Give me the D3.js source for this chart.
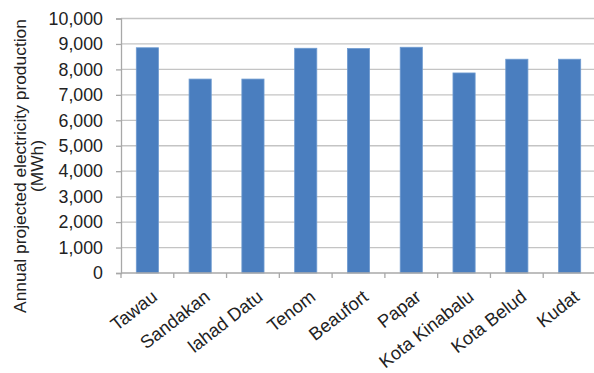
<!DOCTYPE html>
<html><head><meta charset="utf-8">
<script src="https://cdn.jsdelivr.net/npm/d3@7/dist/d3.min.js"></script>
<style>body{margin:0;background:#fff}svg{display:block}text{font-family:Arial,"Liberation Sans",sans-serif;fill:#222}</style>
</head><body><svg id="c" width="594" height="373"></svg>
<script>
const categories = ["Tawau","Sandakan","lahad Datu","Tenom","Beaufort","Papar","Kota Kinabalu","Kota Belud","Kudat"];
const values = [8850, 7620, 7620, 8830, 8820, 8870, 7860, 8400, 8400];
const yTicks = [0,1000,2000,3000,4000,5000,6000,7000,8000,9000,10000];
const yTitle = ["Annual projected electricity production","(MWh)"];

const svg = d3.select("#c");
const x = d3.scaleBand().domain(categories).range([121, 596]).paddingInner(0.58).paddingOuter(0.29);
const y = d3.scaleLinear().domain([0, 10000]).range([273, 18.5]);

// gridlines
svg.append("g").selectAll("line").data(yTicks.slice(1)).join("line")
  .attr("x1", 121).attr("x2", 596).attr("y1", d => y(d)).attr("y2", d => y(d))
  .attr("stroke", "#c4c4c4").attr("stroke-width", 1.3);

// bars
svg.append("g").selectAll("rect").data(values).join("rect")
  .attr("x", (d,i) => x(categories[i])).attr("width", x.bandwidth())
  .attr("y", d => y(d)).attr("height", d => y(0) - y(d))
  .attr("fill", "#4a7ebf").attr("stroke", "#6f9bd0").attr("stroke-width", 0.8);

// y axis
const ya = svg.append("g").attr("transform", "translate(121,0)")
  .call(d3.axisLeft(y).tickValues(yTicks).tickFormat(d3.format(",")).tickSize(5).tickPadding(13));
ya.select(".domain").attr("stroke", "#a8a8a8").attr("stroke-width", 1.3);
ya.selectAll(".tick line").attr("stroke", "#a8a8a8").attr("stroke-width", 1.3);
ya.selectAll("text").attr("font-size", 17.8).style("fill", "#222");

// x axis
const bounds = categories.map((c,i) => 121 + i * (475/9)).concat([596]);
svg.append("line").attr("x1",121).attr("x2",596).attr("y1",y(0)).attr("y2",y(0))
  .attr("stroke","#a8a8a8").attr("stroke-width",1.3);
svg.append("g").selectAll("line").data(bounds).join("line")
  .attr("x1", d => d).attr("x2", d => d).attr("y1", y(0)).attr("y2", y(0) + 5)
  .attr("stroke", "#a8a8a8").attr("stroke-width", 1.3);
svg.append("g").selectAll("text").data(categories).join("text")
  .attr("transform", d => `translate(${x(d) + x.bandwidth()/2 + 11},${y(0) + 26}) rotate(-38)`)
  .attr("text-anchor", "end").attr("font-size", 18.3).text(d => d);

// y title
svg.append("text").attr("transform", "translate(20,166) rotate(-90)")
  .attr("text-anchor", "middle").attr("font-size", 17.4)
  .selectAll("tspan").data(yTitle).join("tspan")
  .attr("x", 0).attr("dy", (d,i) => i === 0 ? "0.35em" : "1.0em").text(d => d);
</script></body></html>
